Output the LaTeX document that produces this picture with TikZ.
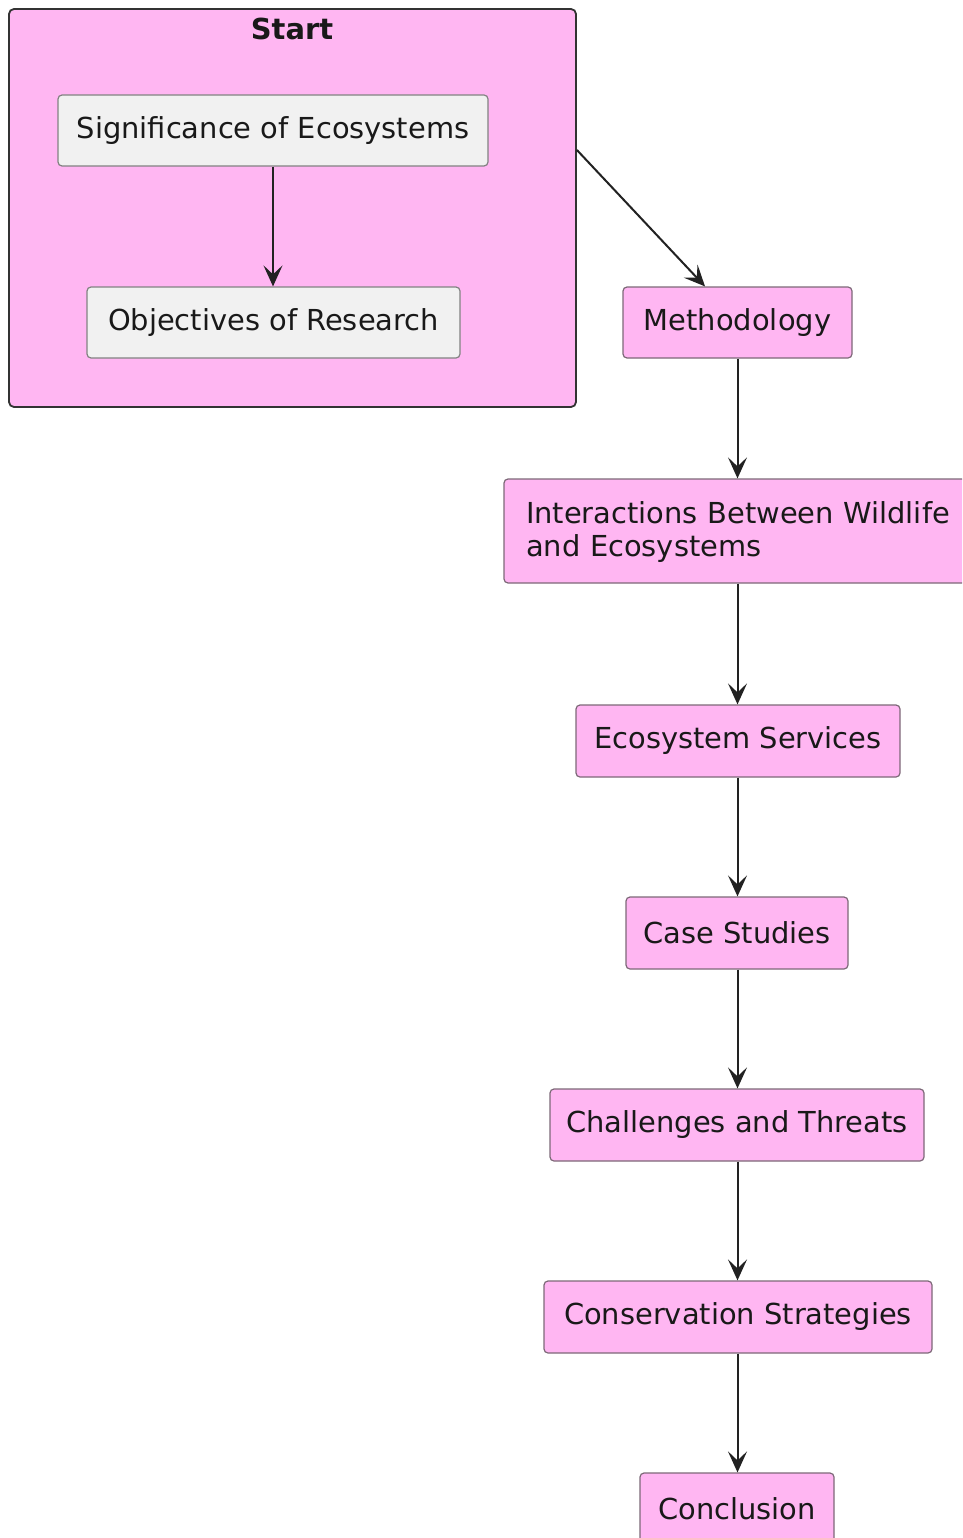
\documentclass[tikz,border=0pt]{standalone}
\usepackage{fontspec}
\setmainfont{DejaVu Sans}
\usetikzlibrary{arrows.meta}
\definecolor{pinkfill}{RGB}{255,182,242}
\definecolor{grayfill}{RGB}{241,241,241}
\definecolor{boxline}{RGB}{125,105,120}
\definecolor{grayline}{RGB}{130,130,130}
\definecolor{arrowcol}{RGB}{34,34,34}
\newcommand{\lowertext}[1]{\raisebox{-3pt}{#1}}
\tikzset{
  every node/.style={font=\fontsize{28.9}{33.2}\selectfont, text=black!90},
  pinkbox/.style={draw=boxline, line width=1.2pt, fill=pinkfill, rounded corners=4pt, inner sep=0pt, align=center},
  graybox/.style={draw=grayline, line width=1.2pt, fill=grayfill, rounded corners=4pt, inner sep=0pt, align=center},
  cluster/.style={draw=black!80, line width=1.8pt, fill=pinkfill, rounded corners=5pt, inner sep=0pt},
  conn/.style={draw=arrowcol, line width=2pt, -{Stealth[length=21pt, width=19pt, inset=9pt]}},
}
\begin{document}
\begin{tikzpicture}[x=1pt, y=-1pt]
\useasboundingbox (0,0) rectangle (962,1538);
\clip (0,0) rectangle (962,1538);
\fill[white] (0,0) rectangle (962,1538);
% cluster
\node[cluster, minimum width=567pt, minimum height=398pt] (start) at (292.5,208) {};
\node[font=\fontsize{28.9}{33.2}\selectfont\bfseries] (starttitle) at (292,29) {Start};
\node[graybox, minimum width=430pt, minimum height=71pt] (sig) at (273,130.5) {\lowertext{Significance of Ecosystems}};
\node[graybox, minimum width=373pt, minimum height=71pt] (obj) at (273.5,322.5) {\lowertext{Objectives of Research}};
% main chain
\node[pinkbox, minimum width=229pt, minimum height=71pt] (meth) at (737.5,322.5) {\lowertext{Methodology}};
\node[pinkbox, minimum width=468pt, minimum height=104pt, text width=424pt, align=left] (inter) at (738,531) {\strut Interactions Between Wildlife\\and Ecosystems};
\node[pinkbox, minimum width=324pt, minimum height=72pt] (eco) at (738,741) {\lowertext{Ecosystem Services}};
\node[pinkbox, minimum width=222pt, minimum height=72pt] (case) at (737,933) {\lowertext{Case Studies}};
\node[pinkbox, minimum width=374pt, minimum height=72pt] (chal) at (737,1125) {\lowertext{Challenges and Threats}};
\node[pinkbox, minimum width=388pt, minimum height=72pt] (cons) at (738,1317) {\lowertext{Conservation Strategies}};
\node[pinkbox, minimum width=194pt, minimum height=72pt] (concl) at (737,1509) {\lowertext{Conclusion}};
% connectors
\draw[conn] (sig.south) -- (obj.north -| sig.south);
\draw[conn] ([yshift=58pt]start.east) -- ([xshift=-32.5pt]meth.north);
\draw[conn] (meth.south) -- (inter.north -| meth.south);
\draw[conn] (inter.south -| meth.south) -- (eco.north -| meth.south);
\draw[conn] (eco.south -| meth.south) -- (case.north -| meth.south);
\draw[conn] (case.south -| meth.south) -- (chal.north -| meth.south);
\draw[conn] (chal.south -| meth.south) -- (cons.north -| meth.south);
\draw[conn] (cons.south -| meth.south) -- (concl.north -| meth.south);
\end{tikzpicture}
\end{document}
